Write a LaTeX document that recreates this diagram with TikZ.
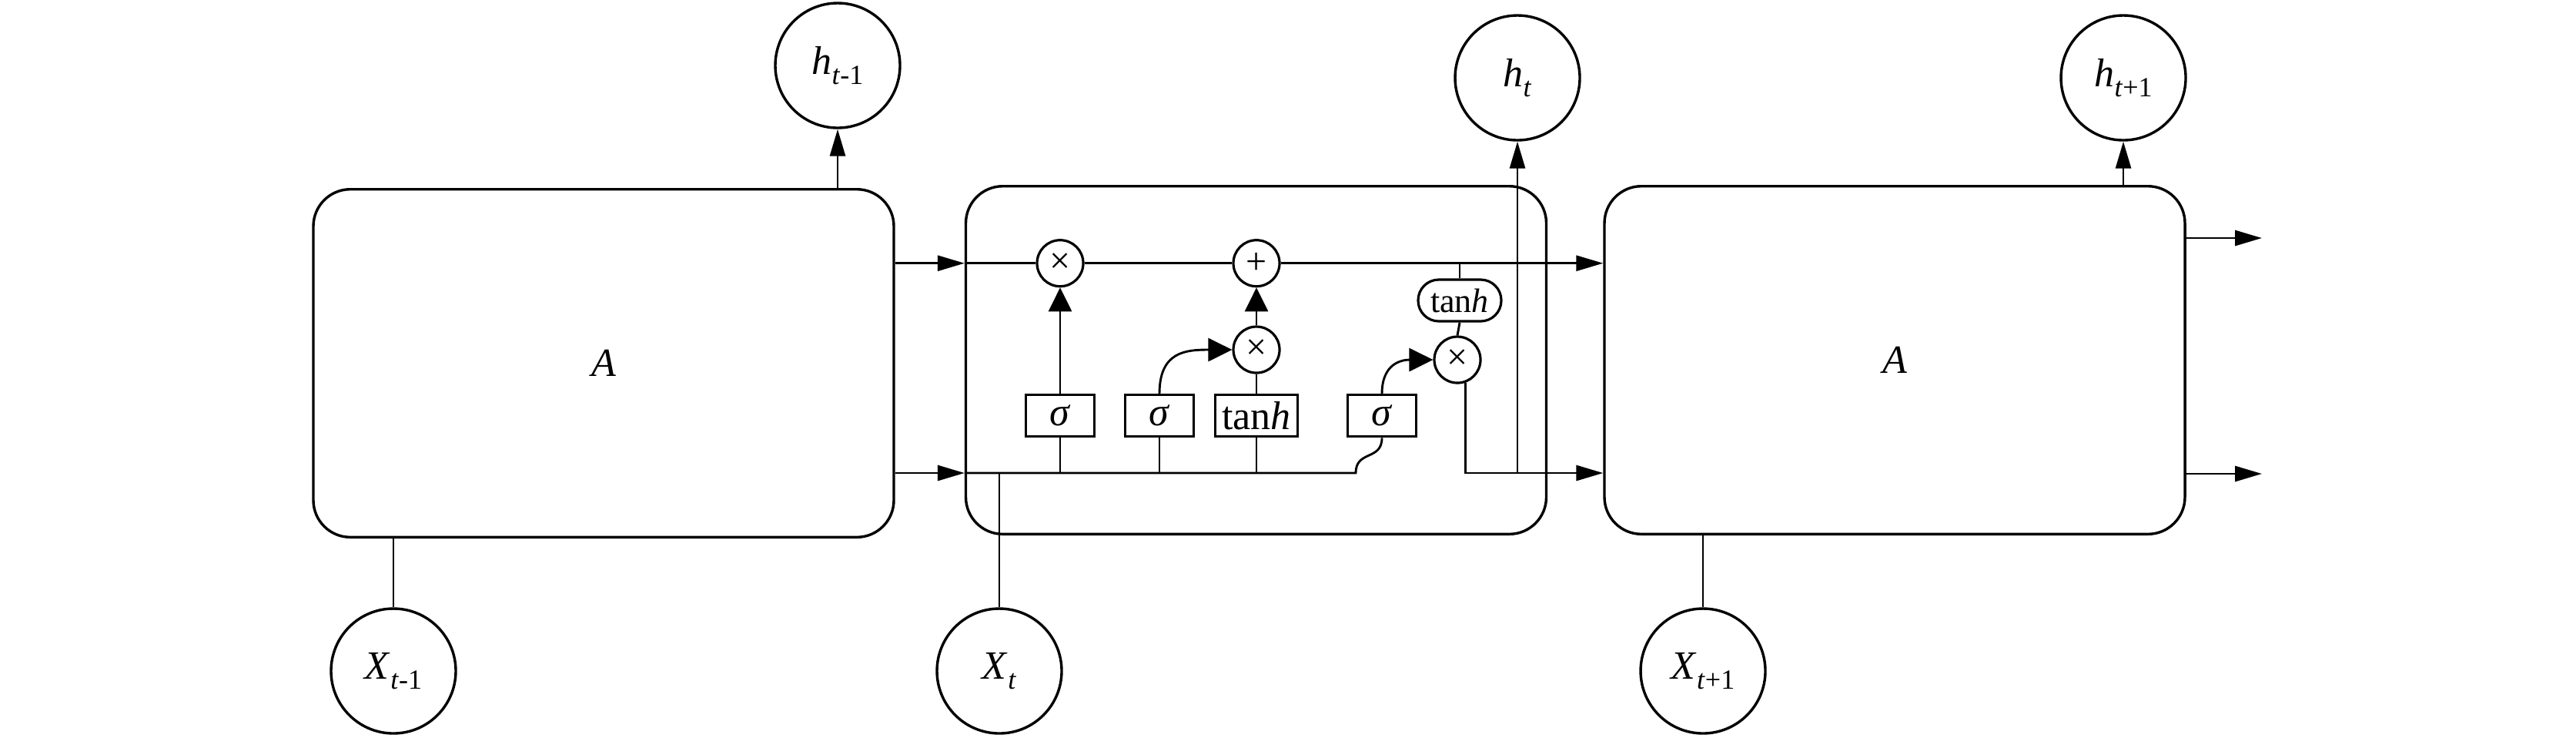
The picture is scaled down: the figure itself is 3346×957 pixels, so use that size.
\documentclass[tikz,border=0pt]{standalone}
\usepackage{fontspec}
\setmainfont{Liberation Serif}
\usetikzlibrary{arrows.meta}
\newcommand\sublbl[3]{\textit{#1}\raisebox{-0.55ex}{\fontsize{9}{10}\selectfont\textit{#2}#3}}
\begin{document}
\begin{tikzpicture}[x=0.25pt,y=-0.25pt,
  cell/.style={draw, line width=0.85pt, rounded corners=12pt, minimum width=188.5pt, minimum height=112.9pt, inner sep=0pt, font=\fontsize{13}{15}\selectfont\itshape},
  io/.style={draw, circle, line width=0.85pt, minimum size=40.5pt, inner sep=0pt, font=\fontsize{13}{15}\selectfont},
  op/.style={draw, circle, line width=0.8pt, minimum size=15pt, inner sep=0pt, font=\fontsize{12}{12}\selectfont},
  gate/.style={draw, rectangle, line width=0.8pt, minimum width=22.25pt, minimum height=13.5pt, inner sep=0pt, font=\fontsize{13}{13}\selectfont},
  pill/.style={draw, rounded corners=6.7pt, line width=0.8pt, minimum width=27pt, minimum height=13.5pt, inner sep=0pt, font=\fontsize{11}{11}\selectfont},
  conn/.style={line width=0.72pt},
  outarr/.style={-{Triangle[length=8.75pt,width=5pt]}},
  inarr/.style={-{Triangle[length=7.75pt,width=7.5pt]}}
  ]
\useasboundingbox (0,0) rectangle (3346,957);
% cells
\node[cell] (L) at (784,471.5) {A};
\node[cell] (M) at (1631.5,467.5) {};
\node[cell] (R) at (2461,467.5) {A};
% inputs / outputs
\node[io] (hp) at (1088,85) {\sublbl{h}{t}{-1}};
\node[io] (hc) at (1971,101) {\sublbl{h}{t}{}};
\node[io] (hn) at (2758,101) {\sublbl{h}{t}{+1}};
\node[io] (xp) at (511,871) {\sublbl{X}{t}{-1}};
\node[io] (xc) at (1298,871) {\sublbl{X}{t}{}};
\node[io] (xn) at (2212,871) {\sublbl{X}{t}{+1}};
\coordinate (ctop) at (0,341.7);
\coordinate (cbot) at (0,614);
% internal operators
\node[op] (f) at (1377,341.7) {×};
\node[op] (add) at (1632,341.7) {+};
\node[op] (ig) at (1632,454) {×};
\node[op] (og) at (1893,467) {×};
\node[gate] (s1) at (1377,539.7) {\textit{σ}};
\node[gate] (s2) at (1506,539.7) {\textit{σ}};
\node[gate, minimum width=26.75pt] (tb) at (1632,539.7) {tan\textit{h}};
\node[gate] (s3) at (1795,539.7) {\textit{σ}};
\node[pill] (tp) at (1896,390) {tan\textit{h}};
\coordinate (o1) at (2938,309);
\coordinate (o2) at (2938,615);
\coordinate (wv) at (1761,614);
% outputs and inputs
\draw[conn,outarr] (hp |- L.north) -- (hp.south);
\draw[conn,outarr] (hn |- R.north) -- (hn.south);
\draw[conn,outarr] (hc |- cbot) -- (hc.south);
\draw[conn] (xp.north) -- (xp |- L.south);
\draw[conn] (xc.north) -- (xc |- cbot);
\draw[conn] (xn.north) -- (xn |- R.south);
% between cells
\draw[conn,outarr] (L.east |- ctop) -- (M.west |- ctop);
\draw[conn,outarr] (L.east |- cbot) -- (M.west |- cbot);
\draw[conn,outarr] (R.east |- o1) -- (o1);
\draw[conn,outarr] (R.east |- o2) -- (o2);
% cell state
\draw[conn] (M.west |- ctop) -- (f.west);
\draw[conn] (f.east) -- (add.west);
\draw[conn,outarr] (add.east) -- (R.west |- ctop);
% hidden / input line
\draw[conn] (M.west |- cbot) -- (wv) .. controls +(0,-30) and +(0,30) .. (s3.south);
\draw[conn] (s1.south) -- (s1 |- cbot);
\draw[conn] (s2.south) -- (s2 |- cbot);
\draw[conn] (tb.south) -- (tb |- cbot);
% gates
\draw[conn,inarr] (s1.north) -- (f.south);
\draw[conn,inarr] (s2.north) .. controls +(0,-55) and +(-60,0) .. (ig.west);
\draw[conn] (tb.north) -- (ig.south);
\draw[conn,inarr] (ig.north) -- (add.south);
\draw[conn,inarr] (s3.north) .. controls +(0,-40) and +(-40,0) .. (og.west);
\draw[conn] (tp |- ctop) -- (tp.north);
\draw[conn] (tp.south) -- (og.north);
\draw[conn,outarr] (og.-70) |- (R.west |- cbot);
\end{tikzpicture}
\end{document}
